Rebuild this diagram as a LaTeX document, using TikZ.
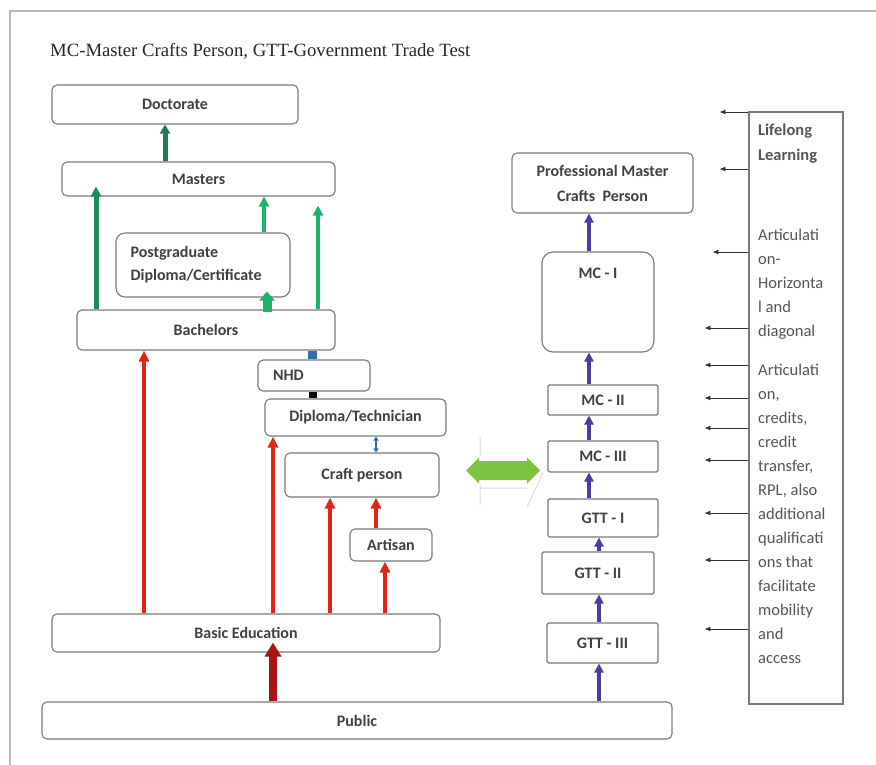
\documentclass[tikz,border=0pt]{standalone}
\usepackage{fontspec}
\setmainfont{Carlito}
\newfontfamily\titlefont{Liberation Serif}
\usetikzlibrary{arrows.meta}

\definecolor{boxline}{HTML}{7A7A7A}
\definecolor{boxtext}{HTML}{404040}
\definecolor{sidetext}{HTML}{555555}
\definecolor{redarr}{HTML}{E2231A}
\definecolor{darkred}{HTML}{A81414}
\definecolor{tealarr}{HTML}{24775C}
\definecolor{dkgreen}{HTML}{1F8A5C}
\definecolor{ltgreen}{HTML}{1DB36E}
\definecolor{purplearr}{HTML}{4B3CA6}
\definecolor{bluelink}{HTML}{2F6EAB}
\definecolor{swapgreen}{HTML}{7DC242}

\begin{document}
\begin{tikzpicture}[x=1pt,y=1pt]
\tikzstyle{level}=[rectangle, rounded corners=5pt, draw=boxline, line width=1.1pt, fill=white, text=boxtext, inner sep=0pt, font=\bfseries\fontsize{16}{19}\selectfont]
\tikzstyle{grade}=[level, rounded corners=1.5pt]
\tikzstyle{side}=[anchor=north west, align=left, inner sep=0pt, text=sidetext, font=\fontsize{16.5}{24}\selectfont]
\tikzstyle{redup}=[-{Triangle[width=10pt,length=11pt]}, line width=3.6pt, draw=redarr]
\tikzstyle{greenup}=[-{Triangle[width=10pt,length=10pt]}, line width=4pt, draw=ltgreen]
\tikzstyle{purpleup}=[-{Triangle[width=9pt,length=9pt]}, line width=4.5pt, draw=purplearr]
\tikzstyle{sidearr}=[-{Latex[length=6pt,width=5pt]}, line width=0.9pt, draw=black!80]
\useasboundingbox (0,0) rectangle (876,-765);
\draw[gray!55, line width=2pt] (10,-765) -- (10,-11) -- (876,-11);

\node[anchor=west, inner sep=0pt, text=black!85, font=\titlefont\fontsize{18.7}{20}\selectfont] (title) at (50,-51) {MC-Master Crafts Person, GTT-Government Trade Test};

% higher education ladder
\node[level, minimum width=246pt, minimum height=39pt] (Doctorate) at (175,-104.5) {Doctorate};
\node[level, minimum width=273pt, minimum height=34pt] (Masters) at (198.5,-179) {Masters};
\node[level, rounded corners=9pt, text width=145pt, inner xsep=14.5pt, minimum height=64pt, align=left, font=\bfseries\fontsize{16}{23}\selectfont] (Postgrad) at (203,-265) {Postgraduate\\Diploma/Certificate};
\node[level, minimum width=258pt, minimum height=40pt] (Bachelors) at (206,-330) {Bachelors};
\node[level, text width=82pt, inner xsep=15pt, minimum height=31pt, align=left] (NHD) at (314,-375.5) {NHD};
\node[level, minimum width=181pt, minimum height=37pt] (Diploma) at (355.5,-417.5) {Diploma/Technician};
\node[level, minimum width=154pt, minimum height=44pt] (Craft) at (362,-475) {Craft person};
\node[level, minimum width=82pt, minimum height=32pt] (Artisan) at (391,-545) {Artisan};
\node[level, minimum width=388pt, minimum height=38pt] (Basic) at (246,-633) {Basic Education};
\node[level, minimum width=630pt, minimum height=37pt] (Public) at (357,-720.5) {Public};

% trade test ladder
\node[level, minimum width=181pt, minimum height=60pt, align=center, font=\bfseries\fontsize{16}{25}\selectfont] (ProfMC) at (602.5,-183) {Professional Master\\Crafts~~Person};
\node[level, rounded corners=11pt, minimum width=112pt, minimum height=100pt] (MCI) at (598,-302) {};
\node[inner sep=0pt, text=boxtext, font=\bfseries\fontsize{16}{19}\selectfont] (MCItext) at ([yshift=-22pt]MCI.north) {MC - I};
\node[grade, minimum width=110pt, minimum height=30pt] (MCII) at (603,-400) {MC - II};
\node[grade, minimum width=110pt, minimum height=31pt] (MCIII) at (603,-456.5) {MC - III};
\node[grade, minimum width=110pt, minimum height=38pt] (GTTI) at (603,-518) {GTT - I};
\node[grade, minimum width=112pt, minimum height=42pt] (GTTII) at (598,-573) {GTT - II};
\node[grade, minimum width=111pt, minimum height=40pt] (GTTIII) at (602.5,-643) {GTT - III};

% lifelong learning column
\node[draw=boxline, line width=1.1pt, minimum width=94pt, minimum height=592pt, inner sep=0pt] (Side) at (796,-408) {};
\node[side, font=\bfseries\fontsize{16.5}{25}\selectfont] (lifelong) at (758,-124) {Lifelong\\Learning};
\node[side] (horiz) at (758,-229) {Articulati\\on-\\Horizonta\\l and\\diagonal};
\node[side] (credits) at (758,-364) {Articulati\\on,\\credits,\\credit\\transfer,\\RPL, also\\additional\\qualificati\\ons that\\facilitate\\mobility\\and\\access};
\foreach \y/\l in {112/29,169/29,252/36,328/44,365/44,398/44,428/44,460/44,513/44,560/44,629/44}
  \draw[sidearr] (Side.west |- 0,-\y) -- ++(-\l,0);

% green arrows
\draw[-{Triangle[width=10pt,length=9pt]}, line width=5pt, draw=tealarr] (Masters.north -| 165,0) -- (Doctorate.south -| 165,0);
\draw[greenup, draw=dkgreen, line width=5pt] (Bachelors.north -| 96,0) -- ([yshift=10pt]Masters.south -| 96,0);
\draw[greenup] (Postgrad.north -| 264,0) -- (Masters.south -| 264,0);
\draw[greenup] (Bachelors.north -| 318,0) -- ([yshift=-9pt]Masters.south -| 318,0);
\draw[-{Triangle[width=15pt,length=9pt]}, line width=9pt, draw=ltgreen] ([yshift=-3pt]Bachelors.north -| 267,0) -- ([yshift=6pt]Postgrad.south -| 267,0);

% links in the middle
\fill[bluelink] ([xshift=-5pt]Bachelors.south -| 313,0) rectangle ([xshift=4pt]NHD.north -| 313,0);
\fill[black] ([xshift=-4pt]NHD.south -| 313,0) rectangle ([xshift=4pt]Diploma.north -| 313,0);
\draw[{Triangle[width=5pt,length=4pt]}-{Triangle[width=5pt,length=4pt]}, line width=2.4pt, draw=bluelink] (Diploma.south -| 376,0) -- (Craft.north -| 376,0);

% red arrows
\draw[redup] (Basic.north -| 144,0) -- (Bachelors.south -| 144,0);
\draw[redup] (Basic.north -| 273,0) -- (Diploma.south -| 273,0);
\draw[redup] (Basic.north -| 330,0) -- (Craft.south -| 330,0);
\draw[redup] (Basic.north -| 385,0) -- (Artisan.south -| 385,0);
\draw[redup] (Artisan.north -| 376,0) -- (Craft.south -| 376,0);
\draw[-{Triangle[width=16pt,length=14pt]}, line width=8pt, draw=darkred] (Public.north -| 273,0) -- ([yshift=10pt]Basic.south -| 273,0);

% purple arrows
\draw[purpleup] (MCI.north -| 589,0) -- (ProfMC.south -| 589,0);
\draw[purpleup] (MCII.north -| 589,0) -- (MCI.south -| 589,0);
\draw[purpleup] (MCIII.north -| 589,0) -- (MCII.south -| 589,0);
\draw[purpleup] (GTTI.north -| 589,0) -- (MCIII.south -| 589,0);
\draw[purpleup] (GTTII.north -| 599,0) -- (GTTI.south -| 599,0);
\draw[purpleup] (GTTIII.north -| 599,0) -- (GTTII.south -| 599,0);
\draw[purpleup] (Public.north -| 599,0) -- (GTTIII.south -| 599,0);

% two-way arrow between the ladders
\draw[gray!30, line width=1pt] (480,-437) -- (480,-456) (480,-485) -- (480,-505) (480,-488) -- (527,-488) (543,-473) -- (527,-507);
\fill[swapgreen] (466,-470.5) -- (479,-457.5) -- (479,-461) -- (527,-461) -- (527,-457.5) -- (540,-470.5) -- (527,-483.5) -- (527,-480) -- (479,-480) -- (479,-483.5) -- cycle;
\end{tikzpicture}
\end{document}
